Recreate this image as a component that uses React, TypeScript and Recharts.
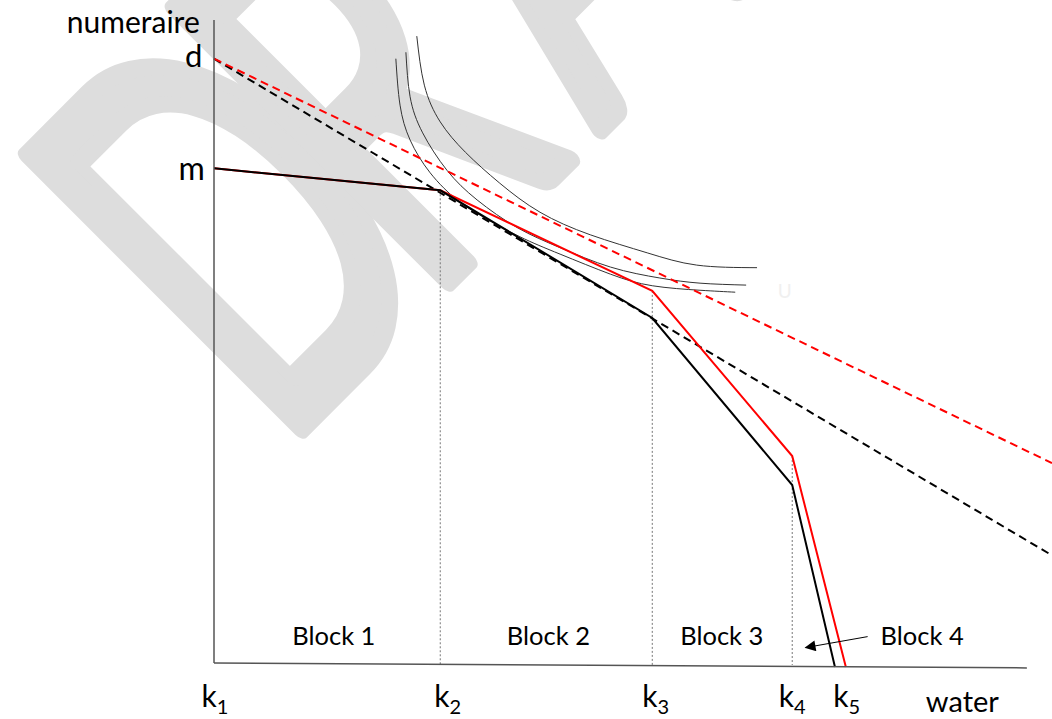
import { LineChart, Line, XAxis, YAxis, ReferenceDot } from 'recharts';

// axis frame (numeraire vs water), in chart units
const yAxisLine = [{ x: 0, y: 0.3 }, { x: 0, y: 100 }];
const xAxisLine = [{ x: 0, y: 0.3 }, { x: 97, y: -0.45 }];

const dIntercept = 94;
const mIntercept = 77;

// budget lines
const blackSolid = [
  { x: 0, y: mIntercept },
  { x: 27.0, y: 73.6 },
  { x: 52.3, y: 53.8 },
  { x: 69.0, y: 27.9 },
  { x: 74.1, y: -0.3 },
];
const redSolid = [
  { x: 0, y: mIntercept },
  { x: 27.0, y: 73.6 },
  { x: 52.3, y: 58.0 },
  { x: 69.0, y: 32.4 },
  { x: 75.4, y: -0.3 },
];
const blackDashed = [{ x: 0, y: dIntercept }, { x: 100, y: 17.0 }];
const redDashed = [{ x: 0, y: dIntercept }, { x: 100, y: 31.3 }];

// drop lines from the kinks
const dropK2 = [{ x: 27.0, y: 73.6 }, { x: 27.0, y: 0 }];
const dropK3 = [{ x: 52.3, y: 58.0 }, { x: 52.3, y: 0 }];
const dropK4 = [{ x: 69.0, y: 32.4 }, { x: 69.0, y: 0 }];

// indifference curves
const curveA = [
  { x: 24.2, y: 97.5 }, { x: 25.1, y: 89.9 }, { x: 27.0, y: 84.2 }, { x: 30.0, y: 79.5 },
  { x: 34.1, y: 74.7 }, { x: 38.9, y: 70.2 }, { x: 44.9, y: 66.7 }, { x: 51.7, y: 63.9 },
  { x: 57.6, y: 62.0 }, { x: 64.8, y: 61.6 },
];
const curveB = [
  { x: 22.9, y: 95.0 }, { x: 23.4, y: 88.1 }, { x: 24.9, y: 82.5 }, { x: 27.8, y: 76.7 },
  { x: 31.4, y: 72.1 }, { x: 36.2, y: 67.8 }, { x: 41.3, y: 64.7 }, { x: 47.3, y: 61.7 },
  { x: 53.2, y: 60.0 }, { x: 58.0, y: 59.2 }, { x: 63.5, y: 58.9 },
];
const curveC = [
  { x: 21.7, y: 94.0 }, { x: 22.2, y: 86.8 }, { x: 23.4, y: 81.4 }, { x: 25.8, y: 76.3 },
  { x: 29.0, y: 72.1 }, { x: 32.1, y: 69.5 }, { x: 36.5, y: 66.4 }, { x: 41.3, y: 63.7 },
  { x: 47.3, y: 60.6 }, { x: 52.3, y: 58.8 }, { x: 58.0, y: 58.1 }, { x: 62.2, y: 57.8 },
];

// arrow pointing at block 4
const block4Arrow = [{ x: 78.0, y: 4.4 }, { x: 70.6, y: 2.7 }];

// labels
const kSubs = ['1', '2', '3', '4', '5'];
const kLabelX = [0.1, 27.9, 52.7, 69.0, 75.5];
const kLabelY = -6.5;
const blockNames = ['Block 1', 'Block 2', 'Block 3', 'Block 4'];
const blockX = [14.3, 39.9, 60.6, 84.5];
const blockY = 3.1;

// watermark
const watermarkLetters = ['D', 'R', 'A', 'F', 'T'];
const watermarkOffsets = [0, 335, 730, 1100, 1400];

const FONT = 'Lato, "Open Sans", sans-serif';

const textShape =
  (content: React.ReactNode, size: number, anchor: string, fill = '#000') =>
  (p: any) => (
    <text x={p.cx} y={p.cy} fontSize={size} fontFamily={FONT} textAnchor={anchor} fill={fill}>
      {content}
    </text>
  );

const lineProps = { dot: false, activeDot: false, isAnimationActive: false, dataKey: 'y' } as const;

export default function App() {
  return (
    <div style={{ position: 'absolute', left: 0, top: 0, width: 1052, height: 719, background: '#fff' }}>
      <svg width={1052} height={719} style={{ position: 'absolute', left: 0, top: 0 }}>
        <defs>
          <marker
            id="arrowHead"
            viewBox="0 0 10 10"
            refX="9"
            refY="5"
            markerWidth="16"
            markerHeight="11"
            markerUnits="userSpaceOnUse"
            orient="auto"
          >
            <path d="M0,0 L10,5 L0,10 z" fill="#000" />
          </marker>
        </defs>
        <text
          transform="translate(278,452) rotate(-45) scale(0.62,1)"
          fontFamily={FONT}
          fontSize={540}
          fill="#dddddd"
          stroke="#dddddd"
          strokeWidth={20}
          strokeLinejoin="round"
        >
          {watermarkLetters.map((l, i) => (
            <tspan key={l} x={watermarkOffsets[i]}>
              {l}
            </tspan>
          ))}
        </text>
      </svg>
      <div style={{ position: 'absolute', left: 0, top: 0 }}>
        <LineChart width={1052} height={719} margin={{ top: 20, right: 0, bottom: 2.4, left: 214 }}>
          <XAxis type="number" dataKey="x" domain={[0, 100]} hide />
          <YAxis type="number" domain={[-8, 100]} hide />

          <Line {...lineProps} data={dropK2} stroke="#777" strokeWidth={1} strokeDasharray="2 2" />
          <Line {...lineProps} data={dropK3} stroke="#777" strokeWidth={1} strokeDasharray="2 2" />
          <Line {...lineProps} data={dropK4} stroke="#777" strokeWidth={1} strokeDasharray="2 2" />

          <Line {...lineProps} data={curveA} type="natural" stroke="#333" strokeWidth={1} />
          <Line {...lineProps} data={curveB} type="natural" stroke="#333" strokeWidth={1} />
          <Line {...lineProps} data={curveC} type="natural" stroke="#333" strokeWidth={1} />

          <Line {...lineProps} data={blackDashed} stroke="#000" strokeWidth={2} strokeDasharray="8 5" />
          <Line {...lineProps} data={redDashed} stroke="#ff0000" strokeWidth={2} strokeDasharray="8 5" />
          <Line {...lineProps} data={redSolid} stroke="#ff0000" strokeWidth={2} />
          <Line {...lineProps} data={blackSolid} stroke="#000" strokeWidth={2} />

          <Line {...lineProps} data={yAxisLine} stroke="#555" strokeWidth={1.5} />
          <Line {...lineProps} data={xAxisLine} stroke="#555" strokeWidth={1.5} />

          <Line {...lineProps} data={block4Arrow} stroke="#000" strokeWidth={1} markerEnd="url(#arrowHead)" />

          <ReferenceDot x={-1.7} y={98.0} r={0} ifOverflow="visible" shape={textShape('numeraire', 30, 'end')} />
          <ReferenceDot x={-1.4} y={92.7} r={0} ifOverflow="visible" shape={textShape('d', 31, 'end')} />
          <ReferenceDot x={-1.1} y={75.2} r={0} ifOverflow="visible" shape={textShape('m', 32, 'end')} />
          <ReferenceDot x={89.3} y={-7.3} r={0} ifOverflow="visible" shape={textShape('water', 29, 'middle')} />
          <ReferenceDot x={68.1} y={56.9} r={0} ifOverflow="visible" shape={textShape('U', 19, 'middle', '#f0f0f0')} />

          {kSubs.map((s, i) => (
            <ReferenceDot
              key={'k' + s}
              x={kLabelX[i]}
              y={kLabelY}
              r={0}
              ifOverflow="visible"
              shape={textShape(
                <>
                  k
                  <tspan fontSize={20} dy={7}>
                    {s}
                  </tspan>
                </>,
                30,
                'middle'
              )}
            />
          ))}

          {blockNames.map((b, i) => (
            <ReferenceDot
              key={b}
              x={blockX[i]}
              y={blockY}
              r={0}
              ifOverflow="visible"
              shape={textShape(b, 25.5, 'middle')}
            />
          ))}
        </LineChart>
      </div>
    </div>
  );
}
